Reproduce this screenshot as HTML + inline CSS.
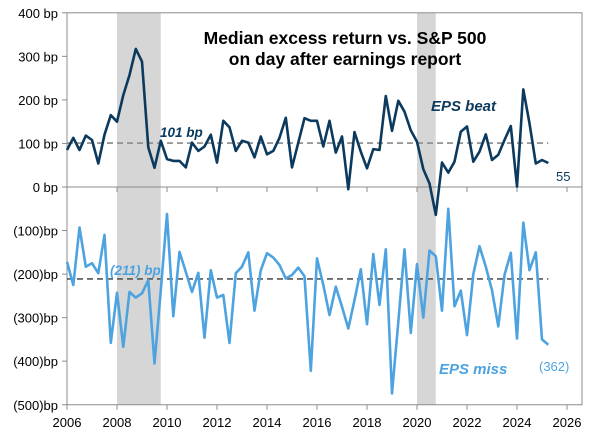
<!DOCTYPE html>
<html><head><meta charset="utf-8"><style>
body{margin:0;background:#fff;}
svg{display:block;font-family:"Liberation Sans",Arial,sans-serif;}
</style></head><body>
<svg id="chart" width="603" height="442"></svg>
<script>
const startYear = 2006;
const beatValues = [85,113,85,118,108,54,120,165,150,211,257,317,288,91,44,106,64,60,60,45,102,83,93,120,56,152,137,83,106,102,68,116,75,83,113,159,45,102,158,152,152,93,152,79,116,-5,126,81,43,87,85,209,129,198,173,130,104,41,8,-64,56,33,58,127,139,58,81,121,62,74,108,140,1,224,146,54,62,55];
const missValues = [-172,-225,-93,-183,-175,-198,-110,-358,-243,-367,-241,-254,-244,-214,-405,-237,-62,-297,-149,-195,-241,-197,-346,-191,-254,-248,-358,-198,-183,-150,-284,-191,-152,-162,-179,-210,-202,-185,-205,-422,-164,-225,-294,-229,-275,-325,-260,-189,-315,-154,-271,-143,-474,-310,-143,-335,-177,-300,-146,-159,-284,-50,-274,-238,-340,-200,-136,-183,-237,-320,-202,-151,-348,-82,-191,-150,-350,-362];
const beatAvg = [101];
const missAvg = [-211];
const yTicks = [400,300,200,100,0,-100,-200,-300,-400,-500];
const yTickLabels = ["400 bp","300 bp","200 bp","100 bp","0 bp","(100)bp","(200)bp","(300)bp","(400)bp","(500)bp"];
const xTicks = [2006,2008,2010,2012,2014,2016,2018,2020,2022,2024,2026];
const recessions = [[2008.0,2009.75],[2020.0,2020.75]];

const svg = document.getElementById('chart');
const NS = 'http://www.w3.org/2000/svg';
const X = yr => 67 + (yr - 2006) * 25;
const Y = v => 187 - v * 0.4355;
function mk(tag, attrs, parent){const e=document.createElementNS(NS,tag);for(const k in attrs)e.setAttribute(k,attrs[k]);(parent||svg).appendChild(e);return e;}

recessions.forEach((r,i)=>{
  const e=mk('rect',{x:X(r[0]),y:Y(400),width:X(r[1])-X(r[0]),height:Y(-500)-Y(400),fill:'#d6d6d6'});
  
  
});

let a=mk('rect',{x:67,y:Y(400),width:582-67,height:Y(-500)-Y(400),fill:'none',stroke:'#8c8c8c','stroke-width':1});


a=mk('line',{x1:67,x2:582,y1:Y(0),y2:Y(0),stroke:'#8c8c8c','stroke-width':1});



yTicks.forEach((t,i)=>{
  mk('line',{x1:62,x2:67,y1:Y(t),y2:Y(t),stroke:'#8c8c8c'});
  const tx=mk('text',{x:58,y:Y(t)+5,'text-anchor':'end','font-size':13,fill:'#000'});
  tx.textContent=yTickLabels[i];
  
  
});
xTicks.forEach(t=>{
  mk('line',{x1:X(t),x2:X(t),y1:Y(0),y2:Y(0)+5,stroke:'#8c8c8c'});
  mk('line',{x1:X(t),x2:X(t),y1:Y(-500),y2:Y(-500)+5,stroke:'#8c8c8c'});
  const tx=mk('text',{x:X(t),y:427,'text-anchor':'middle','font-size':13,fill:'#000'});
  tx.textContent=t;
  
  
});

const avgEnd = X(startYear + 77/4);
a=mk('line',{x1:67,x2:avgEnd,y1:Y(beatAvg[0]),y2:Y(beatAvg[0]),stroke:'#8a8a8a','stroke-width':1.6,'stroke-dasharray':'6,4'});


a=mk('line',{x1:67,x2:avgEnd,y1:Y(missAvg[0]),y2:Y(missAvg[0]),stroke:'#555','stroke-width':1.6,'stroke-dasharray':'6,4'});



function series(vals,color,name){
  const pts=vals.map((v,i)=>X(startYear+i/4).toFixed(1)+','+Y(v).toFixed(1)).join(' ');
  const p=mk('polyline',{points:pts,fill:'none',stroke:color,'stroke-width':2.6,'stroke-linejoin':'round'});
  
  
}
series(missValues,'#4da3e0','eps-miss-line');
series(beatValues,'#0b3a5e','eps-beat-line');

function label(x,y,txt,opts,name){
  const t=mk('text',Object.assign({x:x,y:y},opts));
  t.textContent=txt;
  
  
}
label(160,Y(beatAvg[0])-6,Math.abs(beatAvg[0])+' bp',{'font-size':13.5,'font-style':'italic','font-weight':'600',fill:'#0b3a5e'},'beat-average-label');
label(110,Y(missAvg[0])-4,'('+Math.abs(missAvg[0])+')  bp',{'font-size':13.5,'font-style':'italic','font-weight':'600',fill:'#4da3e0'},'miss-average-label');
label(431,111,'EPS beat',{'font-size':15,'font-style':'italic','font-weight':'bold',fill:'#0b3a5e'},'eps-beat-label');
label(439,374,'EPS miss',{'font-size':15,'font-style':'italic','font-weight':'bold',fill:'#4da3e0'},'eps-miss-label');
label(556,181,String(beatValues[beatValues.length-1]),{'font-size':13,fill:'#0b3a5e'},'beat-last-value');
label(539,371,'('+Math.abs(missValues[missValues.length-1])+')',{'font-size':13,fill:'#4da3e0'},'miss-last-value');
label(345,44,'Median excess return vs. S&P 500',{'font-size':17.5,'font-weight':'bold','text-anchor':'middle',fill:'#000'},'chart-title-line1');
label(345,65,'on day after earnings report',{'font-size':17.5,'font-weight':'bold','text-anchor':'middle',fill:'#000'},'chart-title-line2');
</script>
</body></html>
